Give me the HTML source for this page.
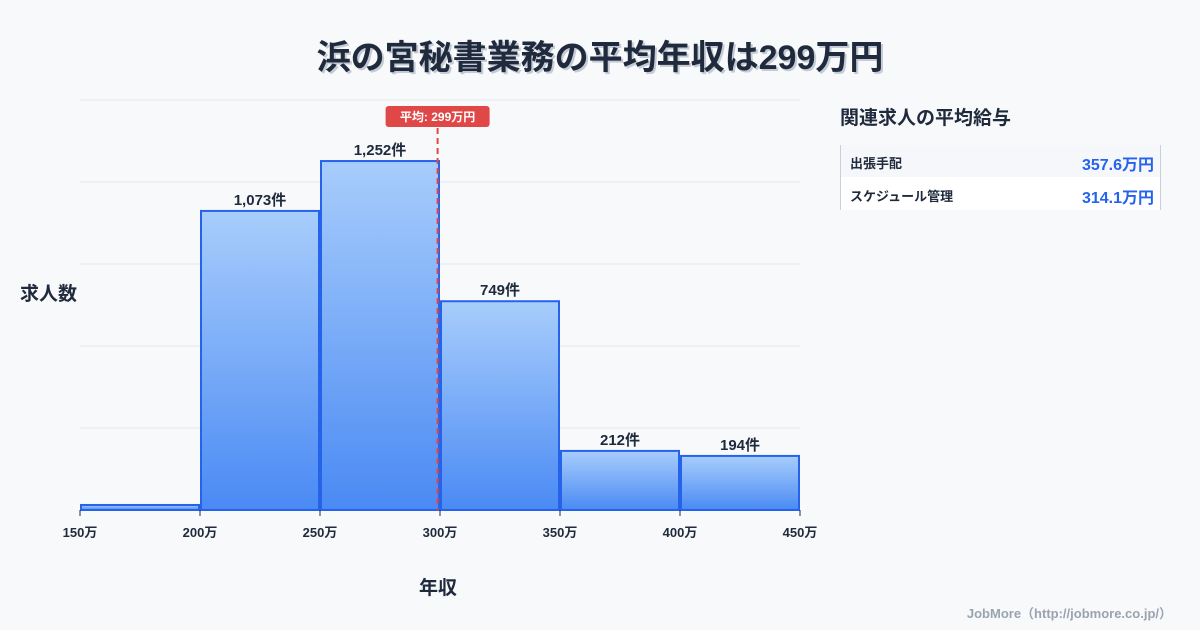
<!DOCTYPE html>
<html><head><meta charset="utf-8">
<style>
body{margin:0;width:1200px;height:630px;background:#f8f9fb;font-family:"Liberation Sans","Noto Sans CJK JP",sans-serif;position:relative;overflow:hidden;color:#1f2a3c}
.t{position:absolute;white-space:nowrap}
</style></head><body>
<div class="t" style="left:0;width:1200px;text-align:center;top:30px;font-size:34px;font-weight:bold;color:#1f2a3c;text-shadow:2px 2px 0 #c5cbd6">浜の宮秘書業務の平均年収は299万円</div>
<div class="t" style="left:20px;top:279px;font-size:19px;font-weight:bold">求人数</div>
<div class="t" style="left:419px;top:573px;font-size:19px;font-weight:bold">年収</div>
<div class="t" style="left:840px;top:103px;font-size:19px;font-weight:bold">関連求人の平均給与</div>
<div style="position:absolute;left:840px;top:145px;width:319px;height:65px;border-left:1px solid #c8d0dc;border-right:1px solid #c8d0dc">
 <div style="height:32px;background:#f5f7fa;position:relative">
  <span class="t" style="left:9px;top:8px;font-size:13px;font-weight:bold">出張手配</span>
  <span class="t" style="right:6px;top:6px;font-size:16px;font-weight:bold;color:#2563eb">357.6万円</span></div>
 <div style="height:33px;background:#fff;position:relative">
  <span class="t" style="left:9px;top:9px;font-size:13px;font-weight:bold">スケジュール管理</span>
  <span class="t" style="right:6px;top:7px;font-size:16px;font-weight:bold;color:#2563eb">314.1万円</span></div>
</div>
<div class="t" style="right:28px;top:603px;font-size:13px;font-weight:bold;color:#9aa3b0">JobMore（http://jobmore.co.jp/）</div>
<svg id="c" width="1200" height="630" style="position:absolute;left:0;top:0">
<defs><linearGradient id="g" x1="0" y1="0" x2="0" y2="1"><stop offset="0" stop-color="#a8cdfb"/><stop offset="1" stop-color="#4a8af4"/></linearGradient></defs>
</svg>
<script>
const binStarts=[150,200,250,300,350,400];
const counts=[18,1073,1252,749,212,194];
const tickLabels=["150万","200万","250万","300万","350万","400万","450万"];
const tickValues=[150,200,250,300,350,400,450];
const avg=299;
const svg=document.getElementById('c');const NS='http://www.w3.org/2000/svg';
const x=v=>80+(v-150)*(720/300);
const yMax=1471;const y=v=>510-v*(410/yMax);
function mk(t,a,p){const e=document.createElementNS(NS,t);for(const k in a)e.setAttribute(k,a[k]);(p||svg).appendChild(e);return e;}
for(let i=0;i<=5;i++){const gl=mk('line',{x1:80,x2:800,y1:510-i*82,y2:510-i*82,stroke:'#e3e6eb','stroke-width':1});

}
binStarts.forEach((b,i)=>{
 const r=mk('rect',{x:x(b)+1,y:y(counts[i]),width:x(b+50)-x(b)-2,height:510-y(counts[i]),fill:'url(#g)',stroke:'#2563eb','stroke-width':2});
 
 
 if(i>0){const t=mk('text',{x:x(b+25),y:y(counts[i])-6,'text-anchor':'middle','font-size':15,'font-weight':'bold',fill:'#1f2a3c'});
 t.textContent=counts[i].toLocaleString('en-US')+'件';
 
 }
});
tickValues.forEach((v,i)=>{
 const tk=mk('line',{x1:x(v),x2:x(v),y1:510,y2:516,stroke:'#1f2a3c','stroke-width':1});
 
 
 const t=mk('text',{x:x(v),y:537,'text-anchor':'middle','font-size':13,'font-weight':'bold',fill:'#1f2a3c'});
 t.textContent=tickLabels[i];
 
 
});
const al=mk('line',{x1:x(avg),x2:x(avg),y1:128,y2:510,stroke:'#e04848','stroke-width':2,'stroke-dasharray':'6,4'});


const ab=mk('rect',{x:x(avg)-52,y:106,width:104,height:21,rx:3,fill:'#e04848'});


const at=mk('text',{x:x(avg),y:121,'text-anchor':'middle','font-size':12,'font-weight':'bold',fill:'#fff'});
at.textContent='平均: '+avg+'万円';


</script>
</body></html>
